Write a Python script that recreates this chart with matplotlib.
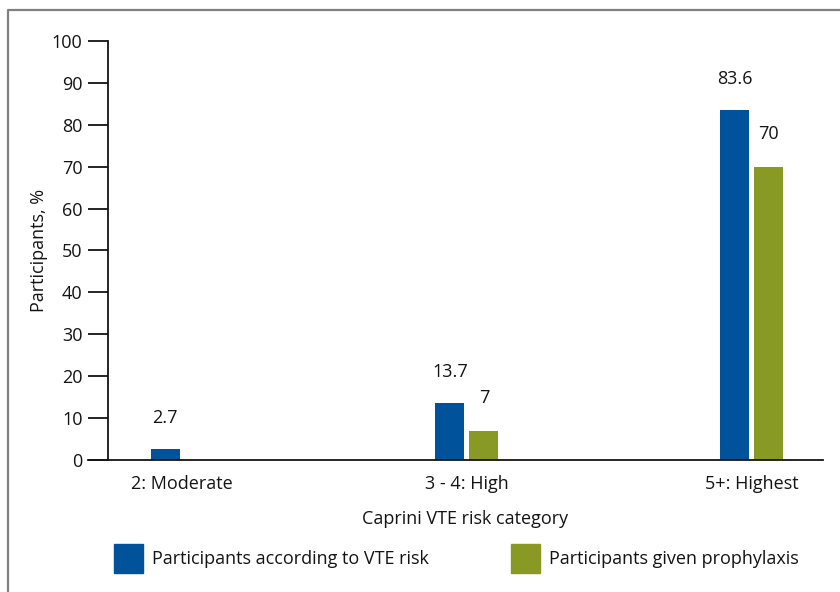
import matplotlib
matplotlib.use("Agg")
import matplotlib.pyplot as plt
from matplotlib.lines import Line2D
from matplotlib.patches import Rectangle
import numpy as np

plt.rcParams['font.family'] = ['Open Sans', 'DejaVu Sans']

categories = ["2: Moderate", "3 - 4: High", "5+: Highest"]
vte_risk = [2.7, 13.7, 83.6]
prophylaxis = [None, 7, 70]
series_names = ["Participants according to VTE risk", "Participants given prophylaxis"]
yticks = [0, 10, 20, 30, 40, 50, 60, 70, 80, 90, 100]

BLUE = "#00529B"
GREEN = "#889A24"
INK = "#141414"
FS = 13

W, H = 840, 592
fig = plt.figure(figsize=(W / 100, H / 100), dpi=100)
ax = fig.add_axes([108 / W, 1 - 460 / H, (823 - 108) / W, (460 - 41) / H])

x = np.arange(len(categories))
bw = 0.102
off = 0.0597

for i, v in enumerate(vte_risk):
    ax.bar(x[i] - off, v, width=bw, color=BLUE, zorder=2)
    ax.annotate(f"{v:g}", (x[i] - off, v), xytext=(0, 22), textcoords="offset points",
                ha="center", va="center", fontsize=FS, color=INK)
for i, v in enumerate(prophylaxis):
    if v is None:
        continue
    ax.bar(x[i] + off, v, width=bw, color=GREEN, zorder=2)
    ax.annotate(f"{v:g}", (x[i] + off, v), xytext=(0, 23.5), textcoords="offset points",
                ha="center", va="center", fontsize=FS, color=INK)

ax.set_xlim(-0.26, 2.25)
ax.set_ylim(0, 100)
ax.set_yticks(yticks)
ax.set_yticklabels([str(t) for t in yticks], fontsize=FS, color=INK)
ax.tick_params(axis="y", direction="out", length=14.4, width=1.3, pad=4, color=INK)
ax.set_xticks(x)
ax.set_xticklabels(categories, fontsize=FS, color=INK)
ax.tick_params(axis="x", length=0, pad=11)

for s in ["top", "right", "bottom"]:
    ax.spines[s].set_visible(False)
ax.spines["left"].set_linewidth(1.3)
ax.spines["left"].set_color(INK)

# baseline runs from the zero tick across the whole plot
ax.add_line(Line2D([-(20 / 715), 1], [0, 0], transform=ax.transAxes, color=INK,
                   lw=1.3, clip_on=False, zorder=3))

ax.set_ylabel("Participants, %", fontsize=FS, color=INK, labelpad=3)
ax.set_xlabel("Caprini VTE risk category", fontsize=FS, color=INK, labelpad=12)

# legend drawn as squares with labels below the axis
sq = 29
for (px, color, label) in [(114, BLUE, series_names[0]), (511, GREEN, series_names[1])]:
    fig.add_artist(Rectangle((px / W, 1 - 573 / H), sq / W, sq / H, color=color,
                             transform=fig.transFigure))
    fig.text((px + sq + 9) / W, 1 - 559 / H, label, fontsize=FS, color=INK,
             ha="left", va="center")

# outer frame on top and left
fig.add_artist(Line2D([7.5 / W, 7.5 / W, 1], [0, 1 - 9.5 / H, 1 - 9.5 / H],
                      transform=fig.transFigure, color="#808080", lw=1.6))

fig.savefig("out.png", dpi=100)
